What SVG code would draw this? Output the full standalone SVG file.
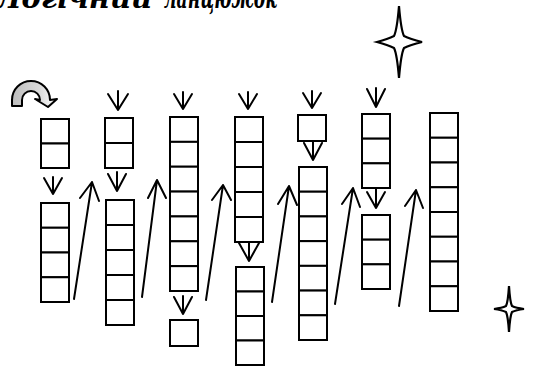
<svg xmlns="http://www.w3.org/2000/svg" width="533" height="367" viewBox="0 0 533 367">
<style>
  .b { fill: #fff; stroke: #000; stroke-width: 2; }
  .c { fill: none; stroke: #000; stroke-width: 2; stroke-linecap: round; stroke-linejoin: round; }
  .s { fill: #fff; stroke: #000; stroke-width: 2.2; stroke-linejoin: miter; }
  .t { font-family: "DejaVu Serif", "Liberation Serif", serif; font-style: italic; font-weight: bold; font-size: 30px; fill: #000; }
</style>
<defs>
  <linearGradient id="g" x1="0" y1="0" x2="1" y2="0">
    <stop offset="0" stop-color="#bdbdbd"/>
    <stop offset="0.6" stop-color="#d9d9d9"/>
    <stop offset="1" stop-color="#ffffff"/>
  </linearGradient>
</defs>
<rect width="533" height="367" fill="#fff"/>

<g id="title">
  <text class="t" x="-4" y="8" textLength="156" lengthAdjust="spacingAndGlyphs">Логічний</text>
  <text class="t" x="164" y="8" textLength="113" lengthAdjust="spacingAndGlyphs">ланцюжок</text>
</g>

<g id="curved-arrow">
  <path d="M12 106 L12 100 A19 19 0 0 1 50 100 L57 99 L48 107 L35 99 L40 100 A9 9 0 0 0 22 100 L22 106 Z" fill="url(#g)" stroke="#000" stroke-width="2" stroke-linejoin="round"/>
</g>

<g id="star-large">
  <path class="s" d="M399 6 Q401 30 404 36 Q410 39 422 42 Q410 45 404 48 Q401 54 399 78 Q397 54 394 48 Q388 45 377 42 Q388 39 394 36 Q397 30 399 6 Z"/>
</g>
<g id="star-small">
  <path class="s" d="M509 286 Q510 302 512 306 Q516 308 524 309 Q516 310 512 312 Q510 316 509 332 Q508 316 506 312 Q502 310 494 309 Q502 308 506 306 Q508 302 509 286 Z"/>
</g>

<g id="col1-top">
  <rect class="b" x="41" y="119" width="28" height="24.5"/>
  <rect class="b" x="41" y="143.5" width="28" height="24.5"/>
</g>
<g id="col1-bottom">
  <rect class="b" x="41" y="203" width="28" height="24.75"/>
  <rect class="b" x="41" y="227.75" width="28" height="24.75"/>
  <rect class="b" x="41" y="252.5" width="28" height="24.75"/>
  <rect class="b" x="41" y="277.25" width="28" height="24.75"/>
</g>
<g id="col2-top">
  <rect class="b" x="105" y="118" width="28" height="25"/>
  <rect class="b" x="105" y="143" width="28" height="25"/>
</g>
<g id="col2-bottom">
  <rect class="b" x="106" y="200" width="28" height="25"/>
  <rect class="b" x="106" y="225" width="28" height="25"/>
  <rect class="b" x="106" y="250" width="28" height="25"/>
  <rect class="b" x="106" y="275" width="28" height="25"/>
  <rect class="b" x="106" y="300" width="28" height="25"/>
</g>
<g id="col3">
  <rect class="b" x="170" y="117" width="28" height="24.86"/>
  <rect class="b" x="170" y="141.86" width="28" height="24.86"/>
  <rect class="b" x="170" y="166.71" width="28" height="24.86"/>
  <rect class="b" x="170" y="191.57" width="28" height="24.86"/>
  <rect class="b" x="170" y="216.43" width="28" height="24.86"/>
  <rect class="b" x="170" y="241.29" width="28" height="24.86"/>
  <rect class="b" x="170" y="266.14" width="28" height="24.86"/>
</g>
<g id="col3-single">
  <rect class="b" x="170" y="320" width="28" height="26"/>
</g>
<g id="col4-top">
  <rect class="b" x="235" y="117" width="28" height="25"/>
  <rect class="b" x="235" y="142" width="28" height="25"/>
  <rect class="b" x="235" y="167" width="28" height="25"/>
  <rect class="b" x="235" y="192" width="28" height="25"/>
  <rect class="b" x="235" y="217" width="28" height="25"/>
</g>
<g id="col4-bottom">
  <rect class="b" x="236" y="267" width="28" height="24.5"/>
  <rect class="b" x="236" y="291.5" width="28" height="24.5"/>
  <rect class="b" x="236" y="316" width="28" height="24.5"/>
  <rect class="b" x="236" y="340.5" width="28" height="24.5"/>
</g>
<g id="col5-single">
  <rect class="b" x="298" y="115" width="28" height="26"/>
</g>
<g id="col5-bottom">
  <rect class="b" x="299" y="167" width="28" height="24.71"/>
  <rect class="b" x="299" y="191.71" width="28" height="24.71"/>
  <rect class="b" x="299" y="216.43" width="28" height="24.71"/>
  <rect class="b" x="299" y="241.14" width="28" height="24.71"/>
  <rect class="b" x="299" y="265.86" width="28" height="24.71"/>
  <rect class="b" x="299" y="290.57" width="28" height="24.71"/>
  <rect class="b" x="299" y="315.29" width="28" height="24.71"/>
</g>
<g id="col6-top">
  <rect class="b" x="362" y="114" width="28" height="24.67"/>
  <rect class="b" x="362" y="138.67" width="28" height="24.67"/>
  <rect class="b" x="362" y="163.33" width="28" height="24.67"/>
</g>
<g id="col6-bottom">
  <rect class="b" x="362" y="215" width="28" height="24.67"/>
  <rect class="b" x="362" y="239.67" width="28" height="24.67"/>
  <rect class="b" x="362" y="264.33" width="28" height="24.67"/>
</g>
<g id="col7">
  <rect class="b" x="430" y="113" width="28" height="24.75"/>
  <rect class="b" x="430" y="137.75" width="28" height="24.75"/>
  <rect class="b" x="430" y="162.5" width="28" height="24.75"/>
  <rect class="b" x="430" y="187.25" width="28" height="24.75"/>
  <rect class="b" x="430" y="212" width="28" height="24.75"/>
  <rect class="b" x="430" y="236.75" width="28" height="24.75"/>
  <rect class="b" x="430" y="261.5" width="28" height="24.75"/>
  <rect class="b" x="430" y="286.25" width="28" height="24.75"/>
</g>

<g id="connectors">
  <path class="c" d="M53 177 L53 194 M44 178 L53 194 L62 178"/>
  <path class="c" d="M118 91 L118 110 M108 94 L118 110 L128 94"/>
  <path class="c" d="M117 172 L117 191 M108 174 L117 191 L126 174"/>
  <path class="c" d="M183 92 L183 109 M174 94 L183 109 L192 94"/>
  <path class="c" d="M183 296 L183 314 M174 297 L183 314 L192 297"/>
  <path class="c" d="M248 92 L248 109 M239 94 L248 109 L257 94"/>
  <path class="c" d="M249 242 L249 261 M239 243 L249 261 L259 243"/>
  <path class="c" d="M312 91 L312 108 M303 93 L312 108 L321 93"/>
  <path class="c" d="M313 141 L313 160 M304 143 L313 160 L322 143"/>
  <path class="c" d="M376 88 L376 107 M367 89 L376 107 L385 89"/>
  <path class="c" d="M376 188 L376 208 M367 192 L376 208 L385 192"/>
  <path class="c" d="M74 299 L92 182 M80 198 L92 182 L99 201"/>
  <path class="c" d="M142 297 L157 180 M148 198 L157 180 L166 198"/>
  <path class="c" d="M206 300 L223 185 M212 200 L223 185 L231 200"/>
  <path class="c" d="M272 302 L289 186 M278 204 L289 186 L297 205"/>
  <path class="c" d="M335 304 L353 188 M342 204 L353 188 L360 207"/>
  <path class="c" d="M399 306 L416 190 M405 206 L416 190 L423 208"/>
</g>
</svg>
